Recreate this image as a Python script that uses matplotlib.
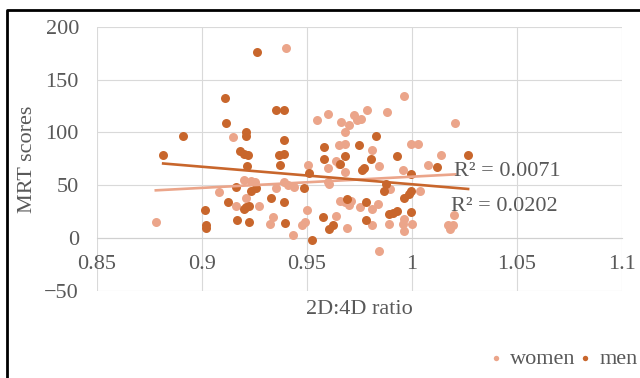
import matplotlib
matplotlib.use("Agg")
import matplotlib.pyplot as plt
from matplotlib.lines import Line2D

plt.rcParams['font.family'] = ['Liberation Serif', 'DejaVu Serif']

# values
women_x = [0.878, 0.908, 0.9147, 0.916, 0.920, 0.9234, 0.925, 0.921, 0.927, 0.934,
           0.9324, 0.935, 0.939, 0.941, 0.9436, 0.940, 0.9432, 0.9475, 0.949, 0.950,
           0.9507, 0.9547, 0.960, 0.966, 0.9726, 0.974, 0.9758, 0.970, 0.9785, 0.988,
           0.996, 1.0206, 0.968, 0.965, 0.968, 0.9996, 1.003, 0.9808, 1.014, 0.964,
           0.965, 0.9845, 1.0078, 0.9956, 0.968, 0.960, 0.9601, 0.9606, 0.9893, 1.0036,
           0.9655, 0.968, 0.971, 0.970, 0.975, 0.981, 0.964, 0.969, 0.981, 0.9842,
           0.984, 0.989, 0.9956, 0.9964, 1.000, 0.9964, 1.017, 1.0196, 1.018, 1.0202]
women_y = [15, 44, 96, 30, 55, 54, 53, 38, 30, 20,
           13, 47, 53, 50, 48, 180, 3, 12, 15, 27,
           69, 112, 117, 110, 116, 112, 113, 107, 121, 119,
           134, 109, 100, 88, 89, 89, 89, 83, 79, 73,
           70, 68, 69, 64, 63, 66, 53, 51, 46, 45,
           35, 34, 35, 31, 29, 28, 21, 10, 12, -12,
           32, 13, 13, 7, 13, 18, 12, 12, 9, 22]

men_x = [0.8815, 0.891, 0.9015, 0.902, 0.902, 0.911, 0.9115, 0.9123, 0.9163, 0.9168,
         0.918, 0.920, 0.9217, 0.921, 0.921, 0.9216, 0.920, 0.921, 0.9226, 0.9224,
         0.9234, 0.9258, 0.926, 0.933, 0.935, 0.939, 0.939, 0.9365, 0.939, 0.937,
         0.939, 0.9393, 0.9485, 0.951, 0.9523, 0.9575, 0.9607, 0.9623, 0.958, 0.958,
         0.968, 0.9655, 0.9747, 0.983, 0.9805, 0.9763, 0.977, 0.9927, 0.9996, 1.0118,
         1.0267, 0.969, 0.978, 0.978, 0.9865, 0.9874, 0.9964, 0.9988, 0.9996, 0.989,
         0.991, 0.9927, 0.9996]
men_y = [79, 97, 27, 12, 10, 133, 109, 34, 48, 17,
         82, 80, 79, 100, 97, 68, 28, 29, 30, 15,
         45, 47, 176, 38, 121, 121, 93, 79, 80, 69,
         34, 14, 47, 62, -2, 20, 9, 12, 86, 75,
         78, 70, 88, 97, 75, 64, 66, 78, 61, 67,
         79, 37, 34, 17, 45, 51, 38, 42, 45, 23,
         24, 26, 25]

# trendline end values as drawn in the reference (at each series' min/max x)
women_trend_y = [45.2, 60.3]
men_trend_y = [70.6, 46.5]
r2_women = '0.0071'
r2_men = '0.0202'

c_women = '#EBA58A'
c_men = '#C8662C'
grey = '#595959'

fig = plt.figure(figsize=(6.4, 3.78), dpi=100)
ax = fig.add_axes([0.1516, 0.2302, 0.8203, 0.6992])

ax.scatter(women_x, women_y, s=42, color=c_women, label='women', zorder=3, linewidths=0)
ax.scatter(men_x, men_y, s=42, color=c_men, label='men', zorder=3, linewidths=0)

ax.plot([min(women_x), max(women_x)], women_trend_y, color=c_women, lw=1.9, zorder=4)
ax.plot([min(men_x), max(men_x)], men_trend_y, color=c_men, lw=1.9, zorder=4)

ax.text(1.0202, 63, 'R² = ' + r2_women, fontsize=16, color=grey, va='center', zorder=5)
ax.text(1.0188, 30, 'R² = ' + r2_men, fontsize=16, color=grey, va='center', zorder=5)

ax.set_xlim(0.85, 1.1)
ax.set_ylim(-50, 200)
ax.set_xticks([0.85, 0.9, 0.95, 1.0, 1.05, 1.1])
ax.set_xticklabels(['0.85', '0.9', '0.95', '1', '1.05', '1.1'])
ax.set_yticks([-50, 0, 50, 100, 150, 200])
ax.grid(True, color='#D9D9D9', lw=0.8, zorder=0)
ax.set_axisbelow(True)
for s in ['top', 'right', 'left']:
    ax.spines[s].set_visible(False)
ax.spines['bottom'].set_position(('data', 0))
ax.spines['bottom'].set_color('#D0D0D0')
ax.tick_params(axis='both', length=0, labelsize=16, labelcolor=grey)
ax.tick_params(axis='x', pad=12)
ax.tick_params(axis='y', pad=13)

fig.text(28 / 640, 1 - 159 / 378, 'MRT scores', rotation=90, ha='center', va='center',
         fontsize=16, color=grey)
fig.text(359.5 / 640, 1 - 309 / 378, '2D:4D ratio', ha='center', va='center',
         fontsize=16, color=grey)

fig.legend(loc='center right', bbox_to_anchor=(1.01, 1 - 359 / 378), ncol=2, frameon=False,
           fontsize=16, labelcolor=grey, markerscale=0.6, handletextpad=0.15,
           columnspacing=-0.1, handlelength=1.0, borderaxespad=0)

fig.add_artist(Line2D([7 / 640, 7 / 640, 1], [0, 1 - 10 / 378, 1 - 10 / 378],
                      transform=fig.transFigure, color='black', lw=2))

fig.savefig('out.png', dpi=100)
